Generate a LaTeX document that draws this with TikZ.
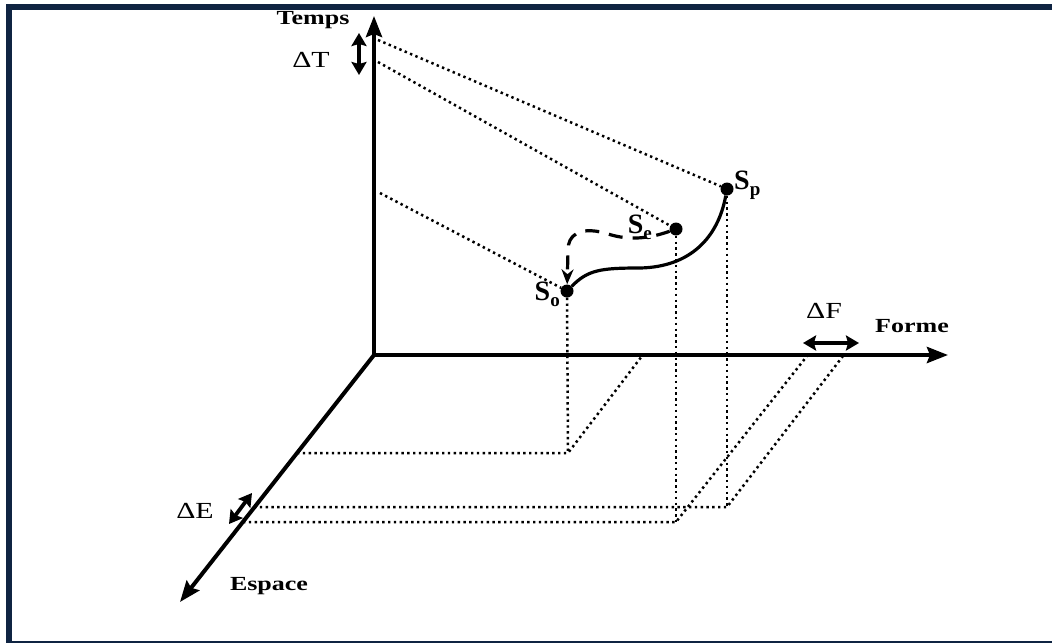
\documentclass[tikz,border=0pt]{standalone}
\usepackage{fontspec}
\setmainfont{Liberation Serif}
\usetikzlibrary{arrows.meta}
\definecolor{frame}{HTML}{0F2442}
\newcommand{\wide}[1]{\scalebox{1.3}[1]{#1}}
\newcommand{\sub}[1]{\raisebox{-6pt}{\fontsize{19}{19}\selectfont #1}}
\tikzset{
  axis/.style={line width=4pt,-{Stealth[length=21pt,width=16pt,inset=3pt]}},
  dbl/.style={line width=3.8pt,{Stealth[length=13pt,width=15pt,inset=2pt]}-{Stealth[length=13pt,width=15pt,inset=2pt]}},
  proj/.style={line width=2.5pt,dash pattern=on 2.4pt off 3.4pt},
  lab/.style={font=\bfseries\fontsize{20}{20}\selectfont,inner sep=0pt},
  dlab/.style={font=\fontsize{23}{23}\selectfont,inner sep=0pt},
  slab/.style={font=\bfseries\fontsize{28}{28}\selectfont,inner sep=0pt},
  pt/.style={circle,fill=black,inner sep=0pt,minimum size=13pt}
}
\begin{document}
\begin{tikzpicture}[x=1pt,y=-1pt]
\useasboundingbox (0,0) rectangle (1052,643);
% frame
\fill[frame] (6,4) rectangle (1052,10);
\fill[frame] (6,4) rectangle (12,643);
\fill[frame] (6,641) rectangle (1052,643);
% axes
\coordinate (O) at (374,355);
\coordinate (T) at (374,16);
\coordinate (F) at (948,355);
\coordinate (E) at (180,602);
\draw[axis] (O) -- (T);
\draw[axis] (O) -- (F);
\draw[axis] (O) -- (E);
% labels
\node[lab] (lT) at (313,20) {\wide{Temps}};
\node[lab] (lF) at (912,326) {\wide{Forme}};
\node[lab] (lE) at (269,586) {\wide{Espace}};
\node[dlab] (dT) at (311,60) {\wide{ΔT}};
\node[dlab] (dF) at (824,311) {\wide{ΔF}};
\node[dlab] (dE) at (195,511) {\wide{ΔE}};
% delta arrows
\coordinate (dT1) at (359,33);
\coordinate (dT2) at (359,75);
\draw[dbl] (dT1) -- (dT2);
\coordinate (dF1) at (803,343);
\coordinate (dF2) at (859,343);
\draw[dbl] (dF1) -- (dF2);
\coordinate (dE1) at (252,493);
\coordinate (dE2) at (229,524);
\draw[dbl] (dE1) -- (dE2);
% points
\node[pt] (So) at (567,291) {};
\node[pt] (Se) at (676,229) {};
\node[pt] (Sp) at (727,189) {};
\node[slab,anchor=north east] (lSo) at (560,282) {S\sub{o}};
\node[slab,anchor=south east] (lSe) at (652,240) {S\sub{e}};
\node[slab,anchor=west] (lSp) at (734,185) {S\sub{p}};
% projection points
\coordinate (ta) at (378,40);
\coordinate (tb) at (378,62);
\coordinate (tc) at (380,193);
\coordinate (fo) at (642,356);
\coordinate (fe) at (807,356);
\coordinate (fp) at (843,356);
\coordinate (go) at (568,453);
\coordinate (ge) at (676,522);
\coordinate (gp) at (727,507);
\coordinate (eo) at (297,453);
\coordinate (ee) at (243,522);
\coordinate (ep) at (254,507);
% dotted projections
\draw[proj] (ta) -- (Sp);
\draw[proj] (tb) -- (Se);
\draw[proj] (tc) -- (So);
\draw[proj] (So) -- (go);
\draw[proj] (Se) -- (ge);
\draw[proj] (Sp) -- (gp);
\draw[proj] (eo) -- (go) -- (fo);
\draw[proj] (ee) -- (ge) -- (fe);
\draw[proj] (ep) -- (gp) -- (fp);
% trajectories
\draw[line width=3.2pt] (So) .. controls (588,270) and (600,268) .. (640,268)
   .. controls (690,267) and (718,238) .. (Sp);
\draw[line width=3.2pt,dash pattern=on 14pt off 10pt,-{Stealth[length=15pt,width=12pt]}]
   (Se) .. controls (645,240) and (625,240) .. (605,233)
   .. controls (578,226) and (568,236) .. (568,250) -- (So);
\end{tikzpicture}
\end{document}
